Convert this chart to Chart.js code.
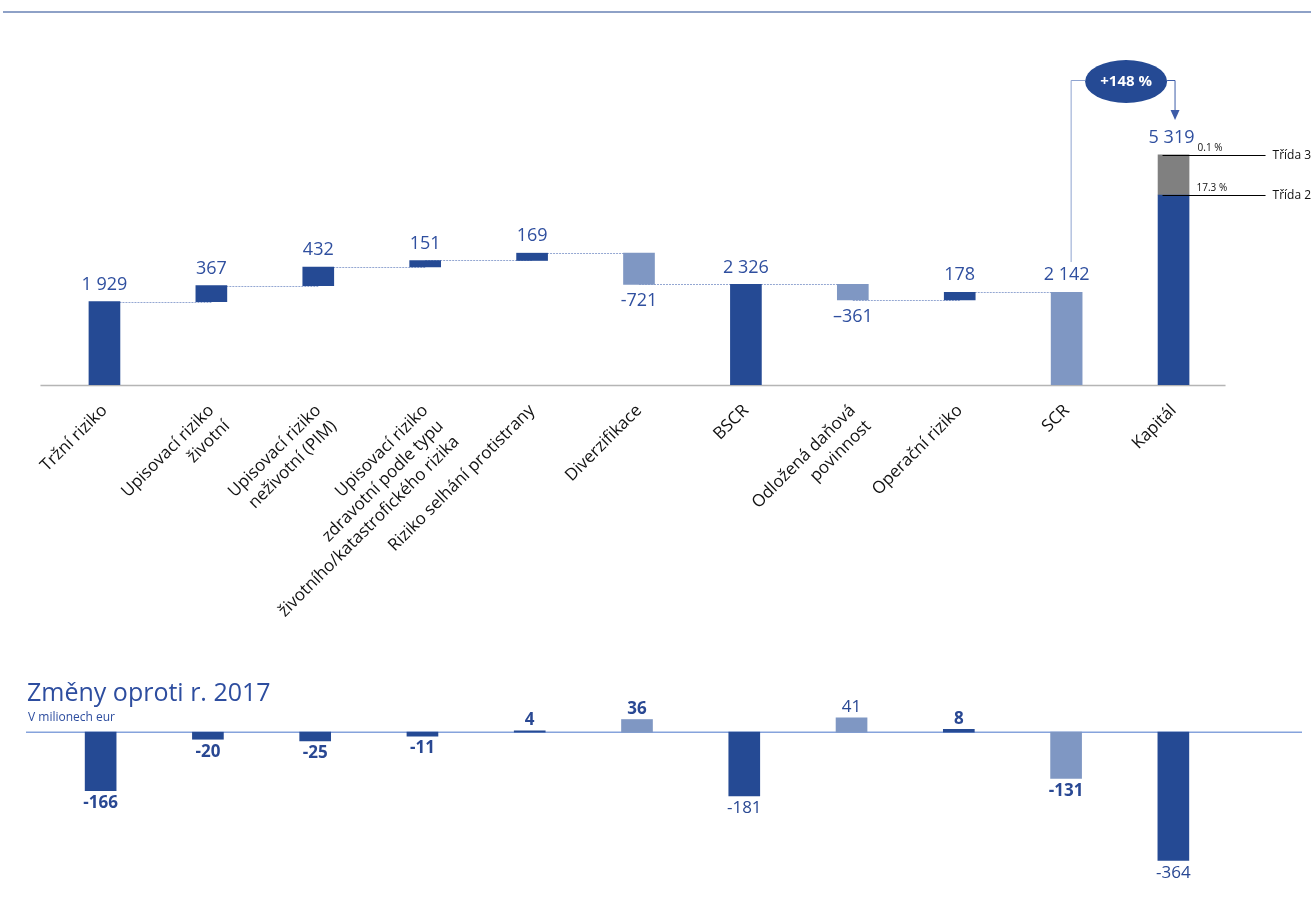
<!DOCTYPE html>
<html><head><meta charset="utf-8">
<script src="https://cdn.jsdelivr.net/npm/chart.js@4.4.1/dist/chart.umd.min.js"></script>
<style>
html,body{margin:0;padding:0;background:#fff;width:1314px;height:899px;overflow:hidden;font-family:"Open Sans",sans-serif}
#topline{position:absolute;left:3px;top:11px;width:1308px;height:2px;background:#8ea1c7}
#c1{position:absolute;left:0;top:0}
#c2{position:absolute;left:0;top:660px}
#t1{position:absolute;left:27px;top:676px;font-size:25px;line-height:30px;color:#2d4d9f;white-space:nowrap}
#t2{position:absolute;left:28px;top:709px;font-size:12px;line-height:16px;color:#2d4d9f;white-space:nowrap}
</style></head><body>
<div id="topline"></div>
<canvas id="c1" width="1314" height="660"></canvas>
<canvas id="c2" width="1314" height="239"></canvas>
<div id="t1">Změny oproti r. 2017</div>
<div id="t2">V milionech eur</div>
<script>
// ---- data ----
const categories = [
  ["Tržní riziko"],
  ["Upisovací riziko", "životní"],
  ["Upisovací riziko", "neživotní (PIM)"],
  ["Upisovací riziko", "zdravotní podle typu", "životního/katastrofického rizika"],
  ["Riziko selhání protistrany"],
  ["Diverzifikace"],
  ["BSCR"],
  ["Odložená daňová", "povinnost"],
  ["Operační riziko"],
  ["SCR"],
  ["Kapitál"]
];
const riskValues = [1929, 367, 432, 151, 169, -721, 2326, -361, 178, 2142, 5319];
const barKinds = ["total", "delta", "delta", "delta", "delta", "delta", "total", "delta", "delta", "total", "total"];
const valueLabels = ["1 929", "367", "432", "151", "169", "-721", "2 326", "–361", "178", "2 142", "5 319"];
const tier2Pct = 17.3;
const tier3Pct = 0.1;
const tierNames = ["Třída 3", "Třída 2"];
const tierPctLabels = ["0.1 %", "17.3 %"];
const coverageLabel = "+148 %";
const changes2017 = [-166, -20, -25, -11, 4, 36, -181, 41, 8, -131, -364];
const changeLabels = ["-166", "-20", "-25", "-11", "4", "36", "-181", "41", "8", "-131", "-364"];

// ---- styles ----
const DARK = "#254a94", LIGHT = "#7f97c3", GRAY = "#808080";
const lightIdx = [5, 7, 9];
const barColors = categories.map((c, i) => lightIdx.includes(i) ? LIGHT : DARK);
const normalWeightChange = [6, 7, 10];
const FONT = '"Open Sans", sans-serif';

// derived waterfall ranges
let run = 0;
const ranges = riskValues.map((v, i) => {
  if (barKinds[i] === "total") { run = v; return [0, v]; }
  const s = run; run += v; return [s, run];
});
const ends = riskValues.map((v, i) => barKinds[i] === "total" ? v : ranges[i][1]);
const kIdx = riskValues.length - 1;
const kapTotal = riskValues[kIdx];
const kapBlueTop = kapTotal * (1 - (tier2Pct + tier3Pct) / 100);
const mainData = ranges.map((r, i) => i === kIdx ? [0, kapBlueTop] : r);
const grayData = ranges.map((r, i) => i === kIdx ? [kapBlueTop, kapTotal] : null);

const topDecor = {
  id: "topDecor",
  beforeDatasetsDraw(chart) {
    const { ctx, scales: { x, y } } = chart;
    ctx.save();
    ctx.strokeStyle = "#b5b5b5"; ctx.lineWidth = 1.5;
    const by = y.getPixelForValue(0) + 0.5;
    ctx.beginPath(); ctx.moveTo(x.getPixelForValue(0) - 64, by); ctx.lineTo(x.getPixelForValue(kIdx) + 52, by); ctx.stroke();
    ctx.strokeStyle = "#94a7d2"; ctx.lineWidth = 1; ctx.setLineDash([2, 1]);
    for (let i = 0; i < 9; i++) {
      const yy = Math.round(y.getPixelForValue(ends[i])) + 0.5;
      ctx.beginPath(); ctx.moveTo(x.getPixelForValue(i), yy); ctx.lineTo(x.getPixelForValue(i + 1), yy); ctx.stroke();
    }
    ctx.restore();
  },
  afterDatasetsDraw(chart) {
    const { ctx, scales: { x, y } } = chart;
    ctx.save();
    ctx.font = "18px " + FONT; ctx.fillStyle = "#2f4f9f"; ctx.textAlign = "center"; ctx.textBaseline = "middle";
    riskValues.forEach((v, i) => {
      const r = ranges[i];
      const top = y.getPixelForValue(Math.max(r[0], r[1]));
      const bot = y.getPixelForValue(Math.min(r[0], r[1]));
      const xx = x.getPixelForValue(i);
      if (v < 0) ctx.fillText(valueLabels[i], xx, bot + 17);
      else ctx.fillText(valueLabels[i], xx - (i === kIdx ? 2 : 0), top - 17);
    });
    const xK = x.getPixelForValue(kIdx);
    const y3 = Math.round(y.getPixelForValue(kapTotal)) + 0.5;
    const y2 = Math.round(y.getPixelForValue(kapBlueTop)) + 0.5;
    ctx.strokeStyle = "#000"; ctx.lineWidth = 1;
    [y3, y2].forEach(yy => { ctx.beginPath(); ctx.moveTo(xK - 11, yy); ctx.lineTo(xK + 92, yy); ctx.stroke(); });
    ctx.fillStyle = "#111"; ctx.textAlign = "left";
    ctx.font = "12px " + FONT;
    ctx.fillText(tierNames[0], xK + 99, y3);
    ctx.fillText(tierNames[1], xK + 99, y2);
    ctx.font = "10px " + FONT;
    ctx.fillText(tierPctLabels[0], xK + 24, y3 - 7);
    ctx.fillText(tierPctLabels[1], xK + 23, y2 - 7);
    const xS = x.getPixelForValue(kIdx - 1) + 4;
    const ex = (x.getPixelForValue(kIdx - 1) + xK) / 2 + 6, ey = 81.5, rx = 41, ry = 21.5;
    ctx.strokeStyle = "#8ea3d0"; ctx.lineWidth = 1;
    ctx.beginPath(); ctx.moveTo(xS + 0.5, 262); ctx.lineTo(xS + 0.5, 80.5); ctx.lineTo(ex - rx, 80.5); ctx.stroke();
    ctx.strokeStyle = "#3d5ca8";
    ctx.beginPath(); ctx.moveTo(ex + rx, 80.5); ctx.lineTo(xK + 1.5, 80.5); ctx.lineTo(xK + 1.5, 111); ctx.stroke();
    ctx.fillStyle = "#3d5ca8";
    ctx.beginPath(); ctx.moveTo(xK - 3, 110); ctx.lineTo(xK + 6, 110); ctx.lineTo(xK + 1.5, 120); ctx.closePath(); ctx.fill();
    ctx.fillStyle = "#254a94";
    ctx.beginPath(); ctx.ellipse(ex, ey, rx, ry, 0, 0, Math.PI * 2); ctx.fill();
    ctx.fillStyle = "#fff"; ctx.font = "bold 15px " + FONT; ctx.textAlign = "center"; ctx.textBaseline = "middle";
    ctx.fillText(coverageLabel, ex, ey);
    ctx.restore();
  }
};

new Chart(document.getElementById("c1"), {
  type: "bar",
  data: {
    labels: categories,
    datasets: [
      { data: mainData, backgroundColor: barColors, grouped: false, barThickness: 31, borderWidth: 0 },
      { data: grayData, backgroundColor: GRAY, grouped: false, barThickness: 31, borderWidth: 0 }
    ]
  },
  options: {
    responsive: false, animation: false, devicePixelRatio: 1,
    layout: { padding: { left: 51, right: 87, top: 39, bottom: 0 } },
    plugins: { legend: { display: false }, tooltip: { enabled: false }, title: { display: false } },
    scales: {
      x: {
        grid: { display: false }, border: { display: false },
        ticks: { minRotation: 45, maxRotation: 45, padding: 7, color: "#111", font: { family: FONT, size: 17, lineHeight: 1.3 } },
        afterFit(s) { s.height = 275; }
      },
      y: { display: false, min: 0, max: 8000 }
    }
  },
  plugins: [topDecor]
});

const bottomDecor = {
  id: "bottomDecor",
  beforeDatasetsDraw(chart) {
    const { ctx, scales: { y } } = chart;
    ctx.save();
    ctx.strokeStyle = "#86a3dc"; ctx.lineWidth = 1.5;
    const zy = y.getPixelForValue(0);
    ctx.beginPath(); ctx.moveTo(26, zy); ctx.lineTo(1302, zy); ctx.stroke();
    ctx.restore();
  },
  afterDatasetsDraw(chart) {
    const { ctx, scales: { x, y } } = chart;
    ctx.save();
    ctx.fillStyle = "#294893"; ctx.textAlign = "center";
    changes2017.forEach((v, i) => {
      const xx = x.getPixelForValue(i);
      ctx.font = (normalWeightChange.includes(i) ? "" : "bold ") + "17px " + FONT;
      if (v < 0) { ctx.textBaseline = "top"; ctx.fillText(changeLabels[i], xx, y.getPixelForValue(v) + 4); }
      else { ctx.textBaseline = "bottom"; ctx.fillText(changeLabels[i], xx, y.getPixelForValue(v) - 2); }
    });
    ctx.restore();
  }
};

new Chart(document.getElementById("c2"), {
  type: "bar",
  data: {
    labels: categories.map(c => c.join(" ")),
    datasets: [{ data: changes2017, backgroundColor: barColors, barThickness: 31, borderWidth: 0 }]
  },
  options: {
    responsive: false, animation: false, devicePixelRatio: 1,
    layout: { padding: { left: 47, right: 87, top: 37, bottom: 26 } },
    plugins: { legend: { display: false }, tooltip: { enabled: false } },
    scales: {
      x: { display: false },
      y: { display: false, min: -400, max: 100 }
    }
  },
  plugins: [bottomDecor]
});
</script>
</body></html>
